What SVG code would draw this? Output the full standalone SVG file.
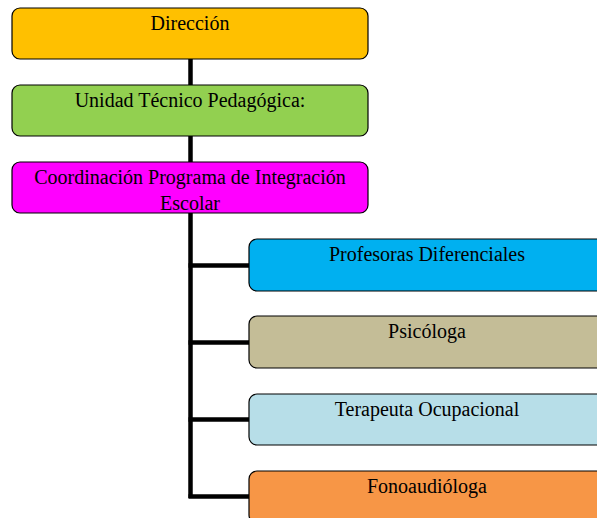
<svg xmlns="http://www.w3.org/2000/svg" width="597" height="518" viewBox="0 0 597 518">
<style>
.box{stroke:#000;stroke-width:1.2}
.t{font-family:"Liberation Serif","Times New Roman",serif;font-size:20px;fill:#000;text-anchor:middle}
.c{stroke:#000;stroke-width:4.5;fill:none}
</style>
<rect width="597" height="518" fill="#fff"/>
<g id="connectors">
<line class="c" x1="190.5" y1="59" x2="190.5" y2="85"/>
<line class="c" x1="190.5" y1="136" x2="190.5" y2="162"/>
<polyline class="c" points="190.5,213 190.5,498"/>
<line class="c" x1="188.5" y1="265.5" x2="249" y2="265.5"/>
<line class="c" x1="188.5" y1="342.5" x2="249" y2="342.5"/>
<line class="c" x1="188.5" y1="419.5" x2="249" y2="419.5"/>
<line class="c" x1="188.5" y1="496.5" x2="249" y2="496.5"/>
</g>
<g id="direccion">
<rect class="box" x="12" y="8" width="356" height="51" rx="8" fill="#FFC000"/>
<text class="t" x="190" y="30">Dirección</text>
</g>
<g id="utp">
<rect class="box" x="12" y="85" width="356" height="51" rx="8" fill="#92D050"/>
<text class="t" x="190" y="107">Unidad Técnico Pedagógica:</text>
</g>
<g id="pie">
<rect class="box" x="12" y="162" width="356" height="51" rx="8" fill="#FF00FF"/>
<text class="t" x="190" y="184">Coordinación Programa de Integración</text>
<text class="t" x="190" y="210">Escolar</text>
</g>
<g id="profesoras">
<rect class="box" x="249" y="239" width="356" height="52" rx="8" fill="#00B0F0"/>
<text class="t" x="427" y="261">Profesoras Diferenciales</text>
</g>
<g id="psicologa">
<rect class="box" x="249" y="316" width="356" height="52" rx="8" fill="#C4BD97"/>
<text class="t" x="427" y="338">Psicóloga</text>
</g>
<g id="terapeuta">
<rect class="box" x="249" y="394" width="356" height="51" rx="8" fill="#B7DEE8"/>
<text class="t" x="427" y="416">Terapeuta Ocupacional</text>
</g>
<g id="fono">
<rect class="box" x="249" y="471" width="356" height="52" rx="8" fill="#F79646"/>
<text class="t" x="427" y="493">Fonoaudióloga</text>
</g>
</svg>
